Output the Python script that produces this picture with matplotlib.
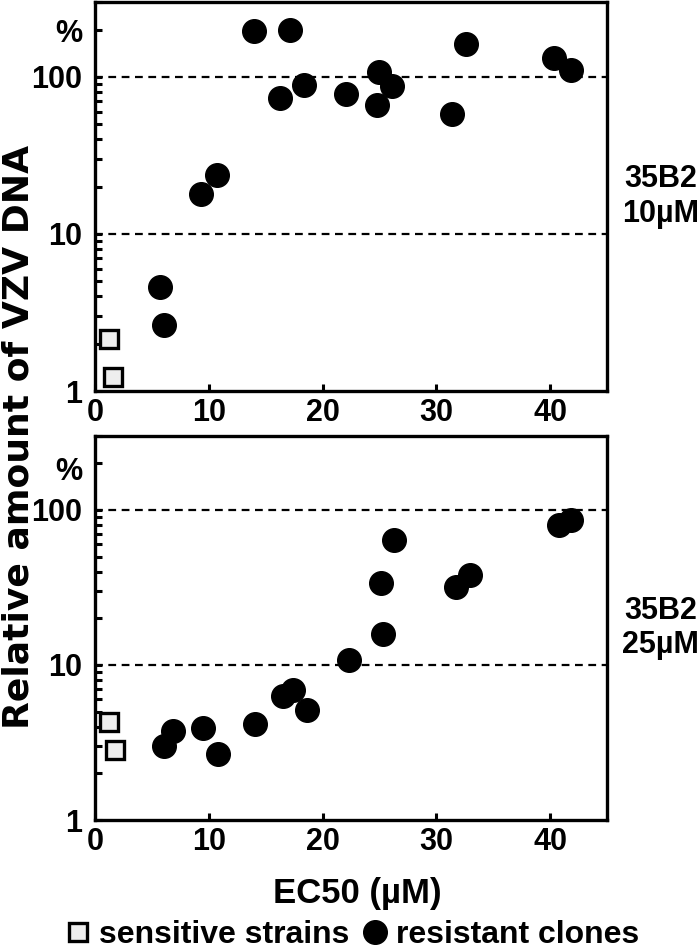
import matplotlib
matplotlib.use("Agg")
import matplotlib.pyplot as plt
from matplotlib.lines import Line2D
from matplotlib.ticker import FixedLocator, NullFormatter

plt.rcParams['font.family'] = ['Liberation Sans', 'DejaVu Sans']
plt.rcParams['font.weight'] = 'bold'

# ---- data ----
top_sens_x = [1.25, 1.55]
top_sens_y = [2.15, 1.23]
top_res_x = [5.7, 6.05, 9.35, 10.7, 14.0, 17.1, 16.25, 18.4, 22.05, 24.95, 24.8, 26.1, 31.4, 32.6, 40.3, 41.8]
top_res_y = [4.6, 2.65, 17.9, 23.7, 195, 198, 73, 88.8, 77.7, 107, 66, 87, 58, 161, 132, 111]

bot_sens_x = [1.25, 1.75]
bot_sens_y = [4.26, 2.84]
bot_res_x = [6.1, 6.85, 9.5, 10.85, 14.1, 16.5, 17.4, 18.65, 22.35, 25.1, 25.3, 26.3, 31.7, 32.95, 40.8, 41.85]
bot_res_y = [2.98, 3.76, 3.93, 2.67, 4.18, 6.3, 6.9, 5.12, 10.8, 34, 15.8, 64, 31.8, 38.3, 79.4, 86.3]

x_ticks = [0, 10, 20, 30, 40]
y_ticks = [1, 10, 100]
y_tick_labels = ['1', '10', '100']
ref_lines = [10, 100]
panel_labels = ['35B2\n10µM', '35B2\n25µM']

fig = plt.figure(figsize=(7.0, 9.49), dpi=100)
W, H = 700, 949

def px_axes(left, top, right, bottom):
    return fig.add_axes([left / W, 1 - bottom / H, (right - left) / W, (bottom - top) / H])

ax1 = px_axes(95, 2, 607, 391)
ax2 = px_axes(95, 436, 607, 820)

panels = [
    (ax1, top_sens_x, top_sens_y, top_res_x, top_res_y, panel_labels[0], 187),
    (ax2, bot_sens_x, bot_sens_y, bot_res_x, bot_res_y, panel_labels[1], 176),
]

minor = [2, 3, 4, 5, 6, 7, 8, 9, 20, 30, 40, 50, 60, 70, 80, 90, 200, 300]

for ax, sx, sy, rx, ry, lab, pct_y in panels:
    ax.set_yscale('log')
    ax.set_xlim(0, 45)
    ax.set_ylim(1, 300)
    for v in ref_lines:
        ax.axhline(v, color='black', lw=1.6, ls=(0, (3.5, 2.5)), zorder=1)
    ax.plot(rx, ry, 'o', ms=17, color='black', mec='black', zorder=3, clip_on=False)
    ax.plot(sx, sy, 's', ms=13, mfc='#eeeeee', mec='black', mew=2.4, zorder=3, clip_on=False)
    ax.set_xticks(x_ticks)
    ax.set_xticklabels([str(t) for t in x_ticks])
    ax.yaxis.set_major_locator(FixedLocator(y_ticks))
    ax.set_yticklabels(y_tick_labels)
    ax.yaxis.set_minor_locator(FixedLocator(minor))
    ax.yaxis.set_minor_formatter(NullFormatter())
    ax.tick_params(axis='both', which='major', direction='in', labelsize=22, width=2.2, length=5)
    ax.tick_params(axis='y', which='major', pad=9)
    ax.tick_params(axis='x', which='major', pad=5)
    ax.tick_params(axis='y', which='minor', direction='in', width=2.2, length=5)
    for s in ax.spines.values():
        s.set_linewidth(2.4)
    for lbl in ax.get_xticklabels() + ax.get_yticklabels():
        lbl.set_fontweight('bold')
    ax.text(-13 / 512, pct_y, '%', transform=ax.get_yaxis_transform(), ha='right', va='center',
            fontsize=22, fontweight='bold')
    ax.text(1.105, 0.5, lab, transform=ax.transAxes, ha='center', va='center',
            fontsize=22, fontweight='bold', linespacing=1.2)

fig.text(18.5 / W, 1 - 437 / H, 'Relative amount of VZV DNA', rotation=90, ha='center', va='center',
         fontsize=26, fontweight='bold', family=['DejaVu Sans'])
fig.text(357 / W, 1 - 893 / H, 'EC50 (µM)', ha='center', va='center', fontsize=25, fontweight='bold')

handles = [
    Line2D([], [], ls='none', marker='s', ms=13, mfc='#eeeeee', mec='black', mew=2.4),
    Line2D([], [], ls='none', marker='o', ms=17, color='black'),
]
fig.legend(handles, ['sensitive strains', 'resistant clones'], loc='center',
           bbox_to_anchor=(354 / W, 1 - 935 / H), ncol=2, frameon=False,
           prop={'size': 23, 'weight': 'bold'}, handlelength=0.6, handletextpad=0.35,
           columnspacing=0.5, borderaxespad=0, borderpad=0)

fig.savefig('out.png', dpi=100)
